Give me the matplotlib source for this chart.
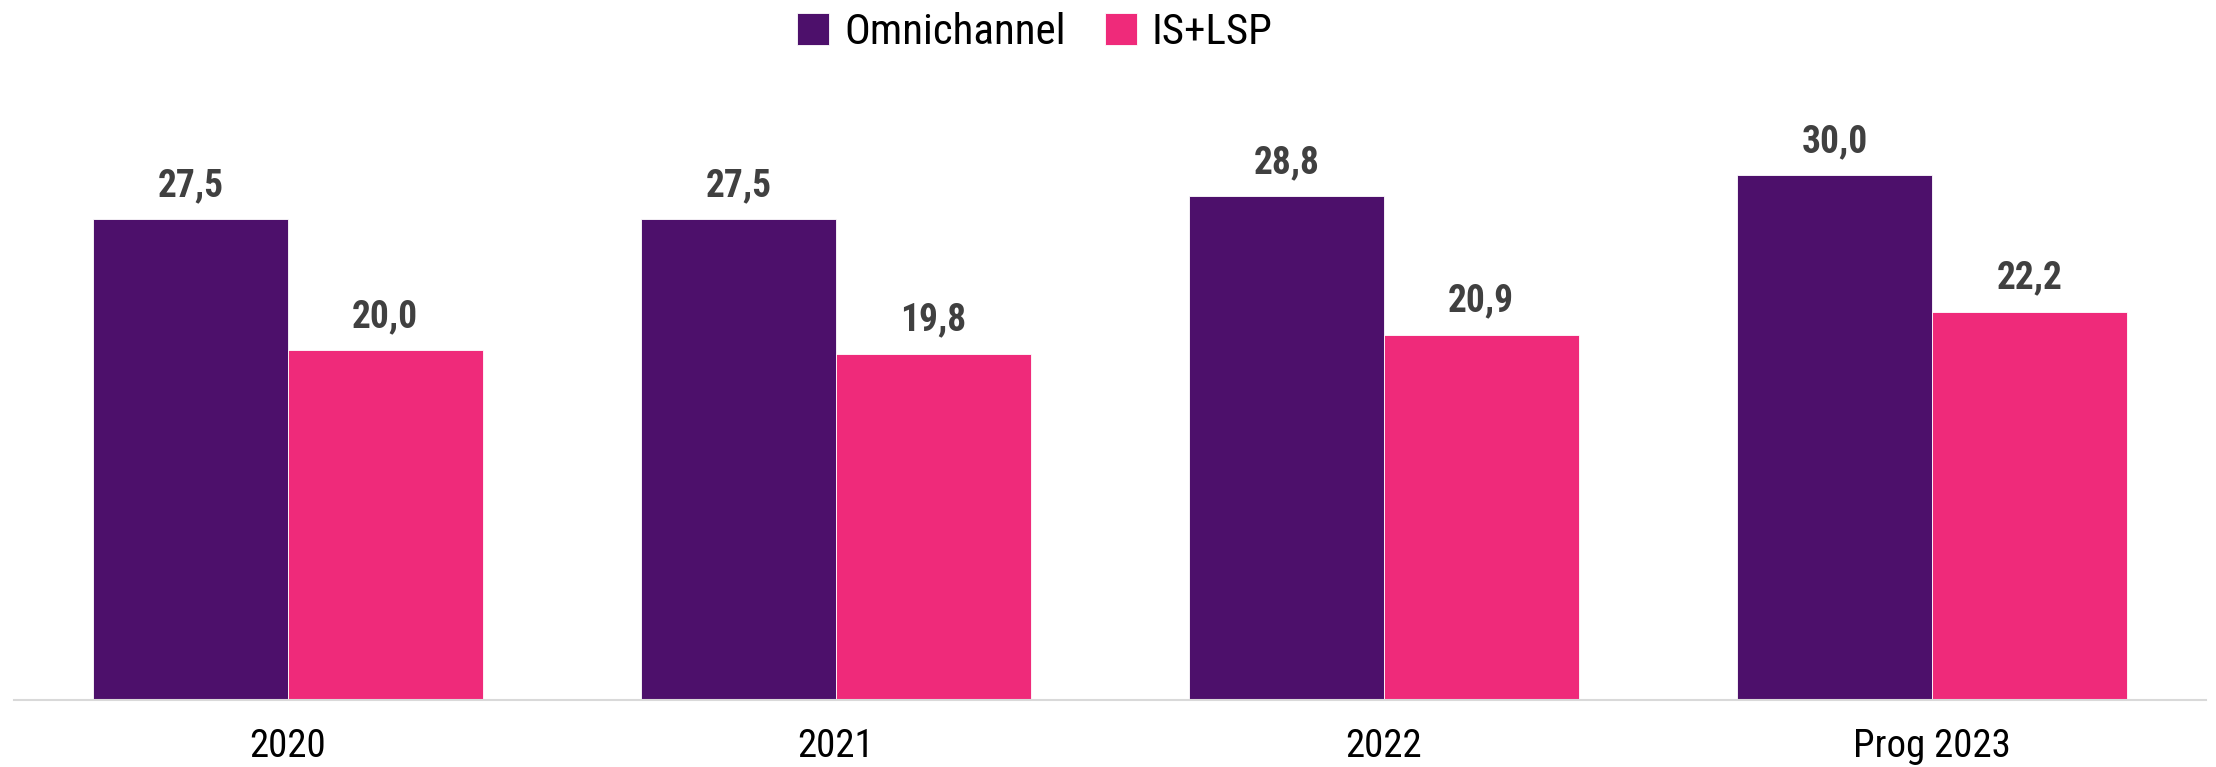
import numpy as np
import matplotlib.pyplot as plt

plt.rcParams['font.family'] = ['Roboto Condensed', 'Liberation Sans Narrow', 'Roboto', 'DejaVu Sans']

# data
years = ['2020', '2021', '2022', 'Prog 2023']
omnichannel = [27.5, 27.5, 28.8, 30.0]
is_lsp = [20.0, 19.8, 20.9, 22.2]

purple = '#4D106B'
pink = '#EF2A7A'

fig = plt.figure(figsize=(22.16, 7.67), dpi=100)
ax = fig.add_axes([14 / 2216, 67 / 767, 2192 / 2216, 640 / 767])

x = np.arange(len(years))
w = 0.355
b1 = ax.bar(x - w / 2, omnichannel, w, color=purple, edgecolor='white', linewidth=0.6, label='Omnichannel')
b2 = ax.bar(x + w / 2, is_lsp, w, color=pink, edgecolor='white', linewidth=0.6, label='IS+LSP')

for bars, vals in [(b1, omnichannel), (b2, is_lsp)]:
    for bar, v in zip(bars, vals):
        ax.annotate(f'{v:.1f}'.replace('.', ','), (bar.get_x() + bar.get_width() / 2, v),
                    xytext=(0, 11), textcoords='offset points', ha='center', va='bottom',
                    fontsize=27, fontweight='bold', color='#404040')

ax.set_xlim(-0.5, len(years) - 0.5)
ax.set_ylim(0, 36.6)
ax.set_xticks(x)
ax.set_xticklabels(years, fontsize=28, color='black')
ax.tick_params(axis='x', length=0, pad=20)
ax.set_yticks([])
for s in ['top', 'right', 'left']:
    ax.spines[s].set_visible(False)
ax.spines['bottom'].set_color('#d9d9d9')
ax.spines['bottom'].set_linewidth(1.5)

fig.legend(loc='upper center', bbox_to_anchor=(0.467, 1.035), ncol=2, frameon=False,
           fontsize=31, handlelength=0.75, handleheight=0.75, handletextpad=0.35, columnspacing=0.9)

fig.savefig('out.png', dpi=100)
